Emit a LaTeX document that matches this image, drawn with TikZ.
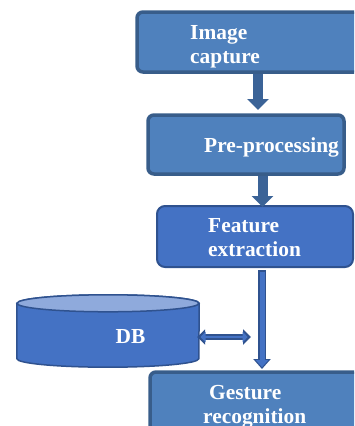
\documentclass[tikz,border=0pt]{standalone}
\usepackage{fontspec}
\setmainfont{Liberation Serif}
\usetikzlibrary{arrows.meta,calc}
\definecolor{boxfill}{HTML}{4F81BD}
\definecolor{boxline}{HTML}{385D8A}
\definecolor{featfill}{HTML}{4472C4}
\definecolor{featline}{HTML}{2F528F}
\definecolor{dbtop}{HTML}{8FAADC}
\definecolor{arrowfill}{HTML}{3B6397}
\tikzset{
  stagebox/.style={draw=boxline, fill=boxfill, line width=3.5pt, rounded corners=6pt, inner sep=0pt},
  featbox/.style={draw=featline, fill=featfill, line width=2pt, rounded corners=8pt, inner sep=0pt},
  label/.style={text=white, font=\bfseries\fontsize{21.4}{24}\selectfont, align=left, inner sep=0pt, anchor=base west},
  solidarrow/.style={draw=arrowfill, line width=10pt, -{Triangle[width=21pt,length=11pt]}},
  hollowout/.style={draw=featline, line width=8pt, -{Triangle[width=17pt,length=10pt]}},
  hollowin/.style={draw=featfill, line width=5pt, -{Triangle[width=12pt,length=7pt]}, shorten >=1.8pt},
  dblout/.style={draw=featline, line width=5.5pt, {Triangle[width=15pt,length=8pt]}-{Triangle[width=15pt,length=8pt]}},
  dblin/.style={draw=featfill, line width=2.5pt, {Triangle[width=10pt,length=5pt]}-{Triangle[width=10pt,length=5pt]}, shorten >=1.8pt, shorten <=1.8pt},
  dbline/.style={draw=featline, line width=1.5pt},
}
\begin{document}
\begin{tikzpicture}[x=1pt,y=-1pt]
\path[use as bounding box] (0,0) rectangle (354,426);
\clip (0,0) rectangle (354,426);
% boxes
\node[stagebox, minimum width=263pt, minimum height=60pt] (b1) at (268.5,42) {};
\node[stagebox, minimum width=196pt, minimum height=59pt] (b2) at (246,144.5) {};
\node[featbox, minimum width=196pt, minimum height=61pt] (b3) at (255,236.5) {};
\node[stagebox, minimum width=260pt, minimum height=90pt] (b4) at (280,417) {};
% database cylinder
\node[inner sep=0pt, minimum width=182pt, minimum height=72pt] (db) at (108,331) {};
\path[dbline, fill=featfill] ($(db.north west)+(0,8.5)$) -- ($(db.south west)+(0,-8.5)$)
  arc[start angle=180, end angle=360, x radius=91pt, y radius=8.5pt]
  -- ($(db.north east)+(0,8.5)$)
  arc[start angle=0, end angle=180, x radius=91pt, y radius=8.5pt] -- cycle;
\path[dbline, fill=dbtop] ($(db.north)+(0,8.5)$) ellipse[x radius=91pt, y radius=8.5pt];
% labels
\node[label] (t1) at (190,63) {Image\\capture};
\node[label] (t2) at (204,152) {Pre-processing};
\node[label] (t3) at (208,256) {Feature\\extraction};
\node[label] (t4) at (203,423) {\hspace{6pt}Gesture\\recognition};
\node[label, anchor=base] (t5) at (130.5,343) {DB};
% connectors
\coordinate (x1) at (258,0);
\coordinate (x2) at (262.5,0);
\coordinate (x3) at (262,0);
\coordinate (tip1) at (258,110);
\coordinate (tip3) at (262,369);
\coordinate (dbend) at (251,337);
\draw[solidarrow] (b1.south -| x1) -- (tip1);
\draw[solidarrow] (b2.south -| x2) -- ($(b3.north -| x2)+(0,2)$);
\draw[hollowout] ($(b3.south -| x3)+(0,2)$) -- (tip3);
\draw[hollowin] ($(b3.south -| x3)+(0,3.5)$) -- (tip3);
\draw[dblout] ($(db.east |- dbend)+(-2,0)$) -- (dbend);
\draw[dblin] ($(db.east |- dbend)+(-0.5,0)$) -- ($(dbend)+(-1.5,0)$);
\end{tikzpicture}
\end{document}
